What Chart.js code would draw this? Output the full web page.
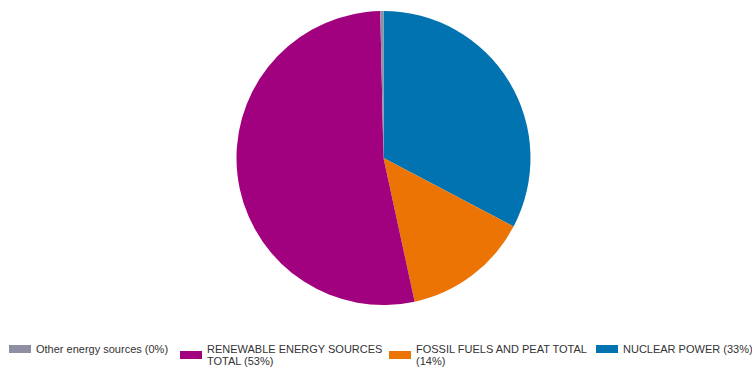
<!DOCTYPE html>
<html>
<head>
<meta charset="utf-8">
<script src="https://cdn.jsdelivr.net/npm/chart.js@4"></script>
<style>
  html, body { margin: 0; padding: 0; background: #fff; }
  body { width: 752px; height: 367px; overflow: hidden; font-family: "Liberation Sans", Arial, sans-serif; }
  #wrap { position: relative; width: 752px; height: 330px; }
  #legend { position: relative; height: 37px; }
  .item { position: absolute; top: 13px; display: flex; align-items: center; width: max-content; }
  .box { width: 22px; height: 8px; margin-right: 5px; flex: none; }
  .txt { font-size: 11px; line-height: 12px; color: #333; max-width: 186px; }
</style>
</head>
<body>
<div id="wrap"><canvas id="chart"></canvas></div>
<div id="legend"></div>
<script>
  // legend order (the pie runs counter-clockwise in this order)
  const labels = ["Other energy sources", "RENEWABLE ENERGY SOURCES TOTAL", "FOSSIL FUELS AND PEAT TOTAL", "NUCLEAR POWER"];
  const shares = [0.35, 53.05, 13.9, 32.7];
  const colors = ["#8e8fa3", "#a1007e", "#ec7404", "#0073b0"];
  const legendX = [9, 180, 389, 596];

  const total = shares.reduce((a, b) => a + b, 0);
  const pct = shares.map((v) => Math.round((v / total) * 100));

  // html legend, text wraps like the original
  const legend = document.getElementById("legend");
  labels.forEach((name, i) => {
    const item = document.createElement("div");
    item.className = "item";
    item.style.left = legendX[i] + "px";
    const box = document.createElement("span");
    box.className = "box";
    box.style.background = colors[i];
    const txt = document.createElement("span");
    txt.className = "txt";
    txt.textContent = `${name} (${pct[i]}%)`;
    item.appendChild(box);
    item.appendChild(txt);
    legend.appendChild(item);
  });

  // Chart.js draws clockwise, so feed the slices reversed
  const ctx = document.getElementById("chart").getContext("2d");
  new Chart(ctx, {
    type: "pie",
    data: {
      labels: labels.slice().reverse(),
      datasets: [
        {
          data: shares.slice().reverse(),
          backgroundColor: colors.slice().reverse(),
          borderWidth: 0,
        },
      ],
    },
    options: {
      responsive: true,
      maintainAspectRatio: false,
      animation: false,
      layout: { padding: { top: 11, bottom: 25, left: 15, right: 0 } },
      plugins: {
        legend: { display: false },
        tooltip: { enabled: false },
      },
    },
  });
</script>
</body>
</html>
